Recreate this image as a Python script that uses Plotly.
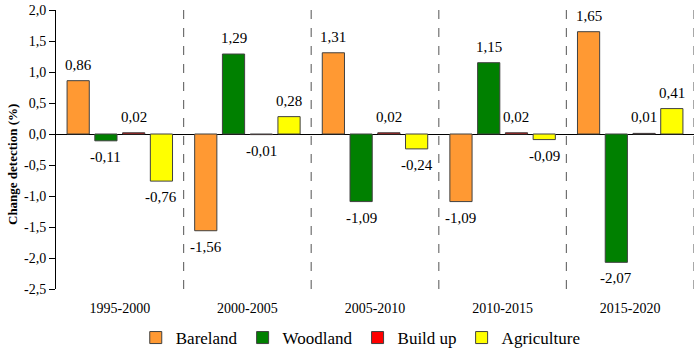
import plotly.graph_objects as go

periods = ["1995-2000", "2000-2005", "2005-2010", "2010-2015", "2015-2020"]
bareland = [0.86, -1.56, 1.31, -1.09, 1.65]
woodland = [-0.11, 1.29, -1.09, 1.15, -2.07]
buildup = [0.02, -0.01, 0.02, 0.02, 0.01]
agriculture = [-0.76, 0.28, -0.24, -0.09, 0.41]
yticks = [2.0, 1.5, 1.0, 0.5, 0.0, -0.5, -1.0, -1.5, -2.0, -2.5]

series = [
    ("Bareland", bareland, "#FF9933"),
    ("Woodland", woodland, "#008000"),
    ("Build up", buildup, "#FF0000"),
    ("Agriculture", agriculture, "#FFFF00"),
]

def fmt(v, d=2):
    return f"{v:.{d}f}".replace(".", ",")

FONT = "Liberation Serif, Times New Roman, serif"
BARGAP = 0.13
fig = go.Figure()
annotations = []
n = len(series)
slot = (1 - BARGAP) / n
for k, (name, vals, col) in enumerate(series):
    fig.add_trace(go.Bar(
        x=periods, y=vals, name=name,
        marker=dict(color=col, line=dict(color="#404040", width=1)),
        cliponaxis=False,
    ))
    off = -(1 - BARGAP) / 2 + slot * (k + 0.5)
    for i, v in enumerate(vals):
        annotations.append(dict(
            x=i + off, y=v, xref="x", yref="y", text=fmt(v), showarrow=False,
            yanchor="middle", xanchor="center", yshift=16 if v >= 0 else -16,
            font=dict(family=FONT, size=15, color="black")))

shapes = []
for i in range(len(periods)):
    shapes.append(dict(type="line", xref="x", yref="paper", x0=i + 0.5, x1=i + 0.5,
                       y0=0, y1=1, line=dict(color="#707070", width=1.2, dash="dash")))

H_PLOT = 352 - 10 - 63
annotations.append(dict(text="<b>Change detection (%)</b>", textangle=-90, xref="paper",
                        yref="paper", x=-44 / 638, xanchor="center", y=(289 - 165) / H_PLOT,
                        yanchor="middle", showarrow=False,
                        font=dict(family=FONT, size=13, color="black")))
fig.update_layout(
    width=700, height=352,
    margin=dict(l=56, r=6, t=10, b=63, autoexpand=False),
    paper_bgcolor="white", plot_bgcolor="white",
    barmode="group", bargap=BARGAP, bargroupgap=0.2,
    font=dict(family=FONT, size=14, color="black"),
    shapes=shapes,
    showlegend=True,
    legend=dict(orientation="h", x=0.125, xanchor="left", y=-49 / H_PLOT, yanchor="middle",
                font=dict(family=FONT, size=17, color="black"), traceorder="normal",
                itemwidth=30),
    xaxis=dict(showline=False, ticks="", showgrid=False, range=[-0.5, 4.5],
               ticklabelstandoff=9, tickfont=dict(family=FONT, size=14)),
    yaxis=dict(range=[-2.5, 2.0], tickvals=yticks, ticktext=[fmt(v, 1) for v in yticks],
               showline=True, linecolor="black", linewidth=1, ticks="outside", ticklen=6,
               tickcolor="black", showgrid=False, zeroline=True, zerolinecolor="black",
               zerolinewidth=1, tickfont=dict(family=FONT, size=14)),
    annotations=annotations,
)
fig.write_html("out.html")
